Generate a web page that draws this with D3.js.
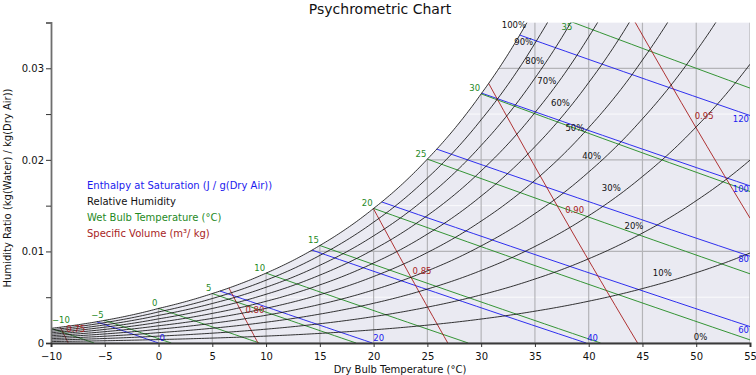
<!DOCTYPE html>
<html>
<head>
<meta charset="utf-8">
<script src="https://cdn.jsdelivr.net/npm/d3@7"></script>
<style>
  body { margin: 0; background: #fff; }
  text { font-family: "DejaVu Sans", sans-serif; }
</style>
</head>
<body>
<div id="vis"></div>
<script>
// ---- Data ----
// saturation vapour pressure table (kPa), ice below 0 °C
const dryBulb = [-10, -5, 0, 5, 10, 15, 20, 25, 30, 35, 40, 45, 50, 55];
const satPressure = [0.2600, 0.4017, 0.6112, 0.8726, 1.2282, 1.7058, 2.3392, 3.1697, 4.2467, 5.6286, 7.3844, 9.5944, 12.351, 15.761];

const rhLevels = [0.1, 0.2, 0.3, 0.4, 0.5, 0.6, 0.7, 0.8, 0.9, 1.0];
const rhLabels = ["0%", "10%", "20%", "30%", "40%", "50%", "60%", "70%", "80%", "90%", "100%"];
const wetBulbLevels = [-10, -5, 0, 5, 10, 15, 20, 25, 30, 35];
const enthalpyLevels = [0, 20, 40, 60, 80, 100, 120];
const volumeLevels = [0.75, 0.80, 0.85, 0.90, 0.95];

const xTicks = [-10, -5, 0, 5, 10, 15, 20, 25, 30, 35, 40, 45, 50, 55];
const yTicks = [0, 0.005, 0.01, 0.015, 0.02, 0.025, 0.03, 0.035];
const yLabelled = [0, 0.01, 0.02, 0.03];

const legendItems = [
  { text: "Enthalpy at Saturation (J / g(Dry Air))", color: "#1a1aee" },
  { text: "Relative Humidity", color: "#111" },
  { text: "Wet Bulb Temperature (°C)", color: "#1f8a1f" },
  { text: "Specific Volume (m³/ kg)", color: "#a81e1e" }
];

const C_RH = "#111", C_WB = "#1f8a1f", C_H = "#1a1aee", C_V = "#a81e1e";

// ---- Layout ----
const W = 756, H = 375;
const x = d3.scaleLinear().domain([-10, 55]).range([51, 750]);
const y = d3.scaleLinear().domain([0, 0.035]).range([343, 22.5]);
const wMax = 0.035;

const svg = d3.select("#vis").append("svg")
  .attr("width", W).attr("height", H)
  .style("display", "block");

// ---- Psychrometric relations ----
const P = 101.325;
const lnPws = d3.scaleLinear().domain(dryBulb).range(satPressure.map(Math.log));
const pws = t => Math.exp(lnPws(t));
const humRatio = (t, rh) => { const pw = rh * pws(t); return 0.621945 * pw / (P - pw); };
const wSat = t => humRatio(t, 1);
const wetBulbW = (t, twb) => {
  const ws = wSat(twb);
  return ((2501 - 2.326 * twb) * ws - 1.006 * (t - twb)) / (2501 + 1.86 * t - 4.186 * twb);
};
const enthW = (t, h) => (h - 1.006 * t) / (2501 + 1.86 * t);
const volW = (t, v) => (v * P / (0.287042 * (t + 273.15)) - 1) / 1.607858;

function solve(f, lo, hi) {
  let flo = f(lo);
  for (let i = 0; i < 60; i++) {
    const mid = (lo + hi) / 2, fm = f(mid);
    if ((fm > 0) === (flo > 0)) { lo = mid; flo = fm; } else hi = mid;
  }
  return (lo + hi) / 2;
}
const sample = (f, t0, t1, n) => d3.range(n + 1).map(i => {
  const t = t0 + (t1 - t0) * i / n;
  return [t, f(t)];
});

const line = d3.line().x(d => x(d[0])).y(d => y(d[1]));

// ---- Clips ----
const defs = svg.append("defs");
defs.append("clipPath").attr("id", "plot")
  .append("rect").attr("x", 51).attr("y", 22.5).attr("width", 699).attr("height", 320.5);

const tTop = solve(t => wSat(t) - wMax, 0, 55);
const satEdge = sample(wSat, -10, tTop, 120);
const region = [...satEdge, [55, wMax], [55, 0], [-10, 0]];
defs.append("clipPath").attr("id", "sat")
  .append("path").attr("d", line(region) + "Z");

// ---- Background + grid ----
svg.append("path").attr("d", line(region) + "Z").attr("fill", "#eaeaf2");

const grid = svg.append("g").attr("clip-path", "url(#sat)");
grid.selectAll("line.minor")
  .data(yTicks.filter(d => !yLabelled.includes(d)))
  .join("line")
  .attr("x1", 51).attr("x2", 750)
  .attr("y1", d => y(d)).attr("y2", d => y(d))
  .attr("stroke", "#fff").attr("stroke-width", 0.8);
grid.selectAll("line.hmajor")
  .data(yLabelled)
  .join("line")
  .attr("x1", 51).attr("x2", 750)
  .attr("y1", d => y(d)).attr("y2", d => y(d))
  .attr("stroke", "#b4b4b8").attr("stroke-width", 1.2);
grid.selectAll("line.v")
  .data(xTicks)
  .join("line")
  .attr("x1", d => x(d)).attr("x2", d => x(d))
  .attr("y1", 22.5).attr("y2", 343)
  .attr("stroke", "#b4b4b8").attr("stroke-width", 1.2);

const lines = svg.append("g").attr("clip-path", "url(#plot)").attr("fill", "none");
const labels = svg.append("g");

// ---- Enthalpy lines ----
enthalpyLevels.forEach(h => {
  const ts = solve(t => enthW(t, h) - wSat(t), -40, 80);
  const te = Math.min(h / 1.006, 55);
  lines.append("path").attr("d", line(sample(t => enthW(t, h), ts, te, 20)))
    .attr("stroke", C_H).attr("stroke-width", 0.9);
  const lab = labels.append("text").text(h).attr("fill", C_H).attr("font-size", 8.5);
  if (te < 55) lab.attr("x", x(te) + 1).attr("y", y(0) - 2);
  else lab.attr("x", 749).attr("y", y(enthW(55, h)) + 6).attr("text-anchor", "end");
});

// ---- Wet bulb lines ----
wetBulbLevels.forEach(twb => {
  const te = Math.min(twb + (2501 - 2.326 * twb) * wSat(twb) / 1.006, 55);
  lines.append("path").attr("d", line(sample(t => wetBulbW(t, twb), twb, te, 20)))
    .attr("stroke", C_WB).attr("stroke-width", 0.9);
  let t0 = twb;
  if (wSat(twb) > wMax) t0 = solve(t => wetBulbW(t, twb) - wMax, twb, te);
  const px = x(t0), py = y(wetBulbW(t0, twb));
  const lab = labels.append("text").text(d3.format("d")(twb))
    .attr("fill", C_WB).attr("font-size", 8.5);
  if (twb <= -10) lab.attr("x", px + 1).attr("y", py - 5);
  else lab.attr("x", px - 1).attr("y", py < 30 ? py + 7.5 : py - 2.5).attr("text-anchor", "end");
});

// ---- Specific volume lines ----
volumeLevels.forEach(v => {
  const ts = solve(t => volW(t, v) - wSat(t), -40, 80);
  const te = Math.min(v * P / 0.287042 - 273.15, 55);
  lines.append("path").attr("d", line(sample(t => volW(t, v), ts, te, 20)))
    .attr("stroke", C_V).attr("stroke-width", 0.9);
  const tv0 = volW(ts, v) > wMax ? solve(t => volW(t, v) - wMax, ts, te) : ts;
  const tm = (tv0 + te) / 2;
  labels.append("text").text(d3.format(".2f")(v))
    .attr("x", x(tm) + 2).attr("y", y(volW(tm, v)) - 3)
    .attr("fill", C_V).attr("font-size", 8.5);
});

// ---- Relative humidity curves ----
const guideX = py => 514 + (py - 27) * 0.6016;
[0, ...rhLevels].forEach((rh, i) => {
  if (rh > 0) {
    const tEnd = rh === 1 ? tTop : 55;
    lines.append("path").attr("d", line(sample(t => humRatio(t, rh), -10, tEnd, 260)))
      .attr("stroke", C_RH).attr("stroke-width", 0.85);
  }
  // label: offset up-left of the curve, centred on a diagonal guide
  const off = rh === 0 ? 6 : 10;
  const pts = sample(t => humRatio(t, rh), -10, 60, 1400).map(d => [x(d[0]), y(d[1])]);
  let c = null;
  for (let k = 0; k < pts.length - 1; k++) {
    const dx = pts[k + 1][0] - pts[k][0], dy = pts[k + 1][1] - pts[k][1];
    const len = Math.hypot(dx, dy);
    const cx = pts[k][0] + off * dy / len, cy = pts[k][1] - off * dx / len;
    if (cx - guideX(cy) >= 0) { c = [cx, cy]; break; }
  }
  if (c) labels.append("text").text(rhLabels[i])
    .attr("x", c[0]).attr("y", c[1]).attr("dy", "0.35em")
    .attr("text-anchor", "middle").attr("font-size", 8.5).attr("fill", C_RH);
});

// ---- Axes ----
const yAxis = svg.append("g").attr("transform", "translate(51,0)")
  .call(d3.axisLeft(y).tickValues(yTicks.slice(0, -1)).tickSizeOuter(0).tickSize(5).tickPadding(2)
    .tickFormat(d => yLabelled.includes(d) ? (d === 0 ? "0" : d3.format(".2f")(d)) : ""));
yAxis.select(".domain").attr("stroke", "#6e6e6e").attr("stroke-width", 1.8);
yAxis.selectAll(".tick line").attr("stroke", "#333");
yAxis.selectAll("text").attr("font-size", 10).attr("fill", "#111")
  .style("font-family", "DejaVu Sans");

const xAxis = svg.append("g").attr("transform", "translate(0,343)")
  .call(d3.axisBottom(x).tickValues(xTicks).tickSizeOuter(0).tickSize(4).tickPadding(6));
xAxis.select(".domain").attr("stroke", "#3a3a3a").attr("stroke-width", 2);
xAxis.selectAll(".tick line").attr("stroke", "#333");
xAxis.selectAll("text").attr("font-size", 10).attr("fill", "#111")
  .style("font-family", "DejaVu Sans");

// ---- Titles ----
svg.append("text").text("Psychrometric Chart")
  .attr("x", 380).attr("y", 14).attr("text-anchor", "middle")
  .attr("font-size", 14).attr("fill", "#111");
svg.append("text").text("Dry Bulb Temperature (°C)")
  .attr("x", 400).attr("y", 372.5).attr("text-anchor", "middle")
  .attr("font-size", 10).attr("fill", "#111");
svg.append("text").text("Humidity Ratio (kg(Water) / kg(Dry Air))")
  .attr("transform", "translate(11,188) rotate(-90)").attr("text-anchor", "middle")
  .attr("font-size", 10).attr("fill", "#111");

// ---- Legend ----
svg.append("g").selectAll("text")
  .data(legendItems)
  .join("text")
  .attr("x", 87).attr("y", (d, i) => 185 + i * 16).attr("dy", "0.35em")
  .attr("font-size", 10).attr("fill", d => d.color)
  .text(d => d.text);
</script>
</body>
</html>
